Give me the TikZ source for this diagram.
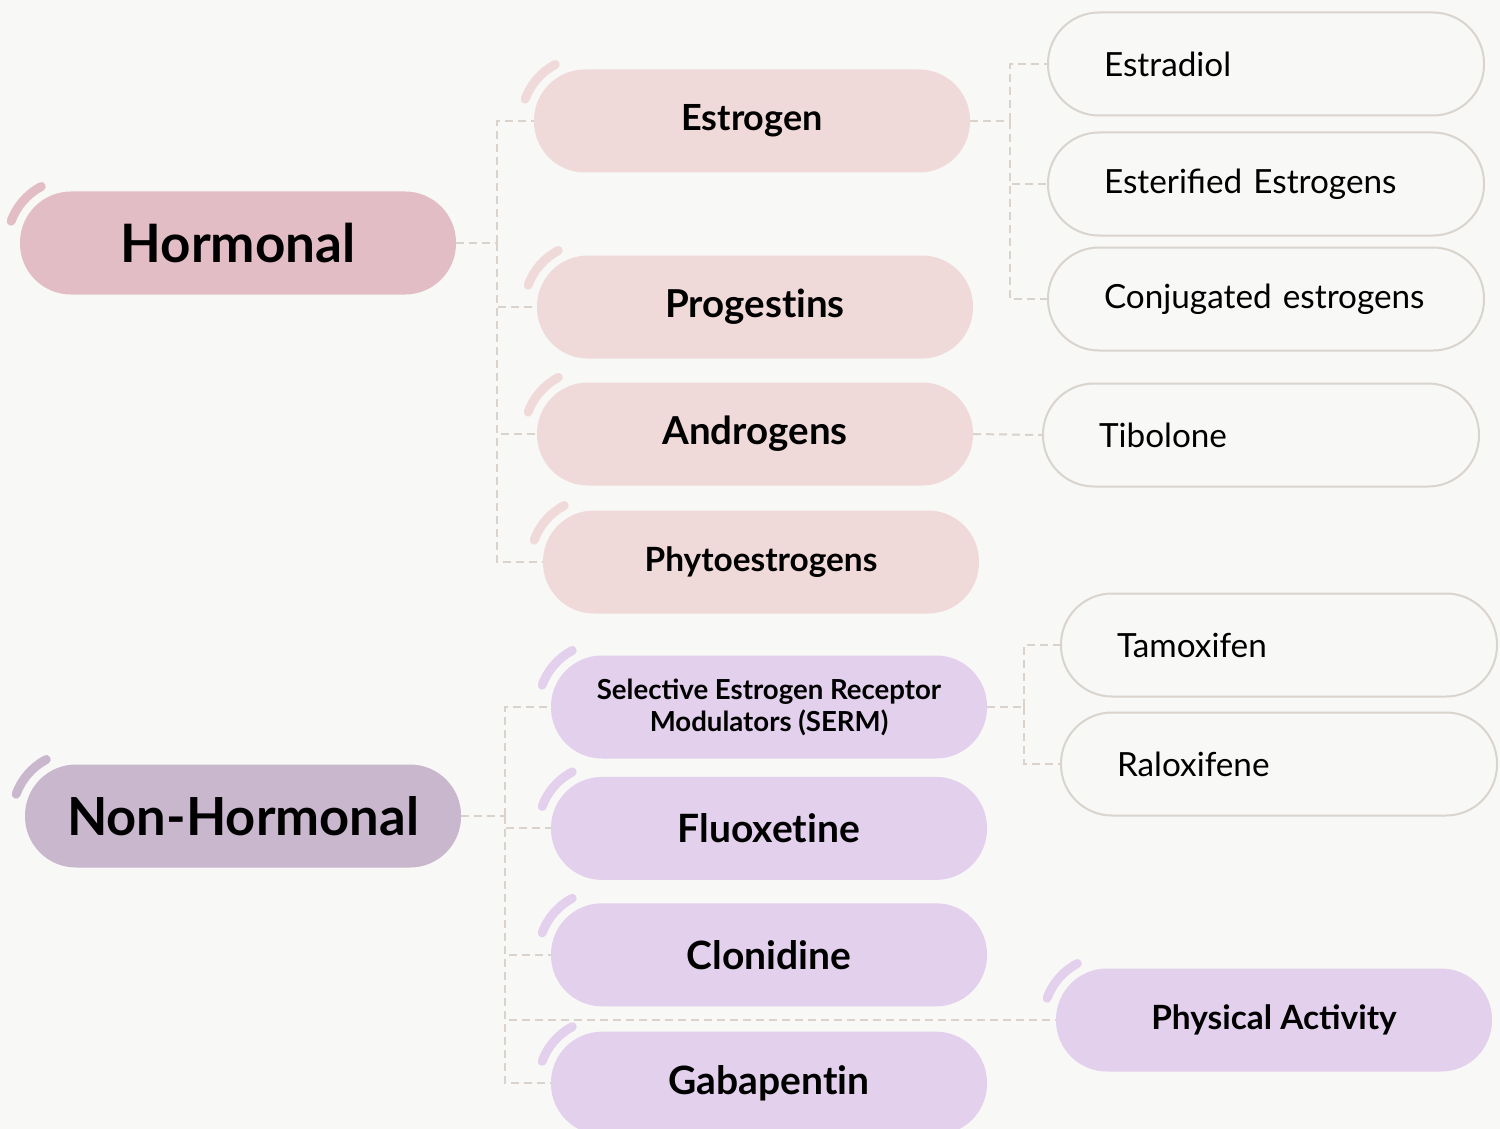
\documentclass[tikz,border=0pt]{standalone}
\usepackage{fontspec}
\setmainfont{Lato}
\usetikzlibrary{positioning,calc}
\definecolor{PaperBg}{RGB}{248,248,246}
\definecolor{HormRose}{RGB}{227,189,198}
\definecolor{HormLight}{RGB}{240,218,217}
\definecolor{NonHormMauve}{RGB}{201,183,206}
\definecolor{NonHormLight}{RGB}{226,208,236}
\definecolor{LeafEdge}{RGB}{217,212,205}
\definecolor{LinkGray}{RGB}{217,211,204}
\newcommand{\nolig}{\kern0pt}
\tikzset{
  link/.style={draw=LinkGray,line width=2pt,dash pattern=on 8pt off 5pt},
  swoosh/.style={line width=9pt,line cap=round},
  pill/.style={rectangle,rounded corners=51pt,minimum width=436pt,
    minimum height=103pt,inner sep=0pt,align=center},
  rootbox/.style={pill,fill=HormRose,font=\fontsize{53}{60}\selectfont\bfseries},
  nonrootbox/.style={pill,fill=NonHormMauve,font=\fontsize{52.5}{60}\selectfont\bfseries},
  hormbox/.style={pill,fill=HormLight,font=\fontsize{38.5}{44}\selectfont\bfseries},
  nonhormbox/.style={pill,fill=NonHormLight,font=\fontsize{39}{44}\selectfont\bfseries},
  leafbox/.style={rectangle,rounded corners=51pt,draw=LeafEdge,line width=2pt,
    fill=PaperBg,minimum width=436pt,minimum height=103pt,inner xsep=56pt,
    inner ysep=0pt,text width=324pt,align=left,font=\fontsize{33.3}{38}\selectfont}
}

\begin{document}
\begin{tikzpicture}[x=1pt,y=-1pt]
  \fill[PaperBg] (0,0) rectangle (1500,1129);
  \useasboundingbox (0,0) rectangle (1500,1129);

  % hormonal branch
  \node[rootbox] (hormonal) at (238,243) {Hormonal};
  \node[hormbox,font=\fontsize{36}{42}\selectfont\bfseries] (estrogen) at (752,121) {Estrogen};
  \node[hormbox] (progestins) at (755,307) {Progest\nolig ins};
  \node[hormbox] (androgens) at (755,434) {Androgens};
  \node[hormbox,font=\fontsize{33.4}{38}\selectfont\bfseries] (phyto) at (761,562) {Phytoestrogens};
  \node[leafbox] (estradiol) at (1266,64) {Estradiol};
  \node[leafbox,below=15pt of estradiol] (esterified) {Esterified Estrogens};
  \node[leafbox,below=10pt of esterified] (conjugated) {Conjugated estrogens};
  \node[leafbox] (tibolone) at (1261,435) {Tibolone};

  % non-hormonal branch
  \node[nonrootbox] (nonhormonal) at (243,816) {Non-Hormonal};
  \node[nonhormbox,font=\fontsize{27.6}{32}\selectfont\bfseries] (serm) at (769,707)
    {Selective Estrogen Receptor\\Modulators (SERM)};
  \node[nonhormbox,below=18pt of serm] (fluoxetine) {Fluoxet\nolig ine};
  \node[nonhormbox,below=23pt of fluoxetine] (clonidine) {Clonidine};
  \node[nonhormbox,below=25pt of clonidine] (gabapentin) {Gabapent\nolig in};
  \node[nonhormbox,font=\fontsize{33.4}{40}\selectfont\bfseries] (physical) at (1274,1020) {Physical Activity};
  \node[leafbox] (tamoxifen) at (1279,645) {Tamoxifen};
  \node[leafbox,below=14pt of tamoxifen] (raloxifene) {Raloxifene};

  % swooshes
  \foreach \n/\c in {hormonal/HormRose,estrogen/HormLight,progestins/HormLight,
      androgens/HormLight,phyto/HormLight,nonhormonal/NonHormMauve,serm/NonHormLight,
      fluoxetine/NonHormLight,clonidine/NonHormLight,gabapentin/NonHormLight,
      physical/NonHormLight}
    \draw[swoosh,draw=\c] ([xshift=51.5pt]\n.west) ++(160:64pt)
      arc[start angle=160,end angle=118,radius=64pt];

  % links
  \coordinate (hbus) at ($(hormonal.east)+(41,0)$);
  \draw[link] (hormonal.east) -- (hbus);
  \foreach \c in {estrogen,progestins,androgens,phyto}
    \draw[link] (hbus) |- (\c.west);
  \coordinate (ebus) at ($(estrogen.east)+(40,0)$);
  \draw[link] (estrogen.east) -- (ebus);
  \foreach \c in {estradiol,esterified,conjugated}
    \draw[link] (ebus) |- (\c.west);
  \draw[link] (androgens.east) -- (tibolone.west);
  \coordinate (nbus) at ($(nonhormonal.east)+(44,0)$);
  \draw[link] (nonhormonal.east) -- (nbus);
  \foreach \c in {serm,fluoxetine,clonidine,gabapentin,physical}
    \draw[link] (nbus) |- (\c.west);
  \coordinate (sbus) at ($(serm.east)+(37,0)$);
  \draw[link] (serm.east) -- (sbus);
  \foreach \c in {tamoxifen,raloxifene}
    \draw[link] (sbus) |- (\c.west);
\end{tikzpicture}
\end{document}
